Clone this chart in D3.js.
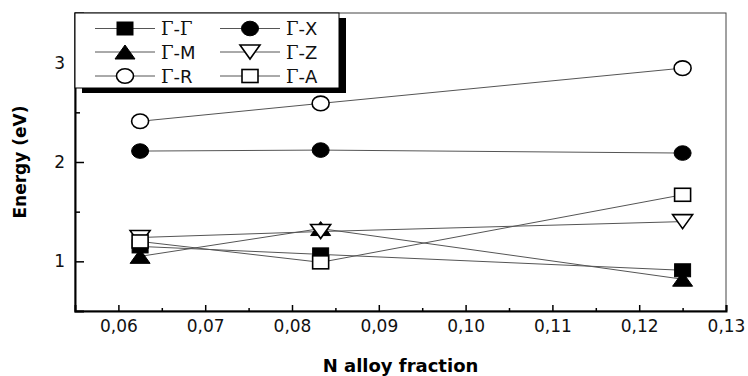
<!DOCTYPE html>
<html>
<head>
<meta charset="utf-8">
<script src="https://cdn.jsdelivr.net/npm/d3@7"></script>
<style>
  html, body { margin: 0; padding: 0; background: #fff; }
  svg { display: block; }
</style>
</head>
<body>
<div id="chart"></div>
<script>
  var
    fractions = [0.0625, 0.0833, 0.125],

    seriesNames = ["Γ-Γ", "Γ-X", "Γ-M", "Γ-Z", "Γ-R", "Γ-A"],
    seriesSymbols = ["square", "circle", "triangleUp", "triangleDown", "circle", "square"],
    seriesFilled = [true, true, true, false, false, false],

    energyGG = [1.15, 1.07, 0.91],
    energyGX = [2.11, 2.12, 2.09],
    energyGM = [1.05, 1.33, 0.82],
    energyGZ = [1.24, 1.30, 1.40],
    energyGR = [2.41, 2.59, 2.945],
    energyGA = [1.20, 0.99, 1.67],

    xTicks = [0.06, 0.07, 0.08, 0.09, 0.10, 0.11, 0.12, 0.13],
    xMinorTicks = [0.065, 0.075, 0.085, 0.095, 0.105, 0.115, 0.125],
    yTicks = [1, 2, 3],
    yMinorTicks = [1.5, 2.5];

  var
    WIDTH = 748,
    HEIGHT = 376,
    LEFT = 75,
    RIGHT = 726,
    TOP = 13,
    BOTTOM = 311,
    LINE_COLOR = "#555",
    FONT = "'DejaVu Sans', Verdana, sans-serif";

  var energies = [energyGG, energyGX, energyGM, energyGZ, energyGR, energyGA];

  var svg = d3.select("#chart").append("svg")
    .attr("width", WIDTH)
    .attr("height", HEIGHT);

  var x = d3.scaleLinear().domain([0.055, 0.13]).range([LEFT, RIGHT]);
  var y = d3.scaleLinear().domain([0.5, 3.5]).range([BOTTOM, TOP]);

  function drawSymbol(g, type, filled, cx, cy){
    var fill = filled ? "#000" : "#fff", el;
    if(type === "square"){
      el = g.append("rect")
        .attr("x", cx - 8).attr("y", cy - 6.5)
        .attr("width", 16).attr("height", 13);
    } else if(type === "circle"){
      el = g.append("ellipse")
        .attr("cx", cx).attr("cy", cy)
        .attr("rx", 8.5).attr("ry", 7.3);
    } else if(type === "triangleUp"){
      el = g.append("path")
        .attr("d", "M" + cx + "," + (cy - 7) + "L" + (cx + 10) + "," + (cy + 7) + "L" + (cx - 10) + "," + (cy + 7) + "Z");
    } else {
      el = g.append("path")
        .attr("d", "M" + (cx - 10) + "," + (cy - 7) + "L" + (cx + 10) + "," + (cy - 7) + "L" + cx + "," + (cy + 7) + "Z");
    }
    el.attr("fill", fill).attr("stroke", "#000").attr("stroke-width", filled ? 1 : 1.6);
  }

  // plot frame
  svg.append("rect")
    .attr("x", LEFT).attr("y", TOP)
    .attr("width", RIGHT - LEFT).attr("height", BOTTOM - TOP)
    .attr("fill", "none").attr("stroke", "#444").attr("stroke-width", 1);

  // axes
  var fmt = function(d){ return d3.format(".2f")(d).replace(".", ","); };

  var xAxis = svg.append("g")
    .attr("transform", "translate(0," + BOTTOM + ")")
    .call(d3.axisBottom(x).tickValues(xTicks).tickSize(-6).tickPadding(9).tickFormat(fmt));
  svg.append("g")
    .attr("transform", "translate(0," + BOTTOM + ")")
    .call(d3.axisBottom(x).tickValues(xMinorTicks).tickSize(-3).tickFormat(""))
    .select(".domain").remove();

  var yAxis = svg.append("g")
    .attr("transform", "translate(" + LEFT + ",0)")
    .call(d3.axisLeft(y).tickValues(yTicks).tickSize(-9).tickPadding(10).tickFormat(d3.format("d")));
  svg.append("g")
    .attr("transform", "translate(" + LEFT + ",0)")
    .call(d3.axisLeft(y).tickValues(yMinorTicks).tickSize(-5).tickFormat(""))
    .select(".domain").remove();

  svg.selectAll(".tick line").attr("stroke", "#000").attr("stroke-width", 1.5);
  xAxis.select(".domain").attr("stroke", "#000").attr("stroke-width", 2);
  yAxis.select(".domain").attr("stroke", "#000").attr("stroke-width", 2);
  svg.selectAll(".tick text")
    .attr("font-family", FONT).attr("font-size", 17).attr("fill", "#111");

  // axis titles
  svg.append("text")
    .attr("x", (LEFT + RIGHT) / 2).attr("y", 372)
    .attr("text-anchor", "middle")
    .attr("font-family", FONT).attr("font-size", 18).attr("font-weight", "bold")
    .text("N alloy fraction");

  svg.append("text")
    .attr("transform", "translate(26," + 162 + ") rotate(-90)")
    .attr("text-anchor", "middle")
    .attr("font-family", FONT).attr("font-size", 17).attr("font-weight", "bold")
    .text("Energy (eV)");

  // series lines
  var line = d3.line()
    .x(function(d, i){ return x(fractions[i]); })
    .y(function(d){ return y(d); });

  energies.forEach(function(values){
    svg.append("path")
      .attr("d", line(values))
      .attr("fill", "none")
      .attr("stroke", LINE_COLOR)
      .attr("stroke-width", 1);
  });

  // series markers
  var marks = svg.append("g");
  energies.forEach(function(values, s){
    values.forEach(function(v, i){
      drawSymbol(marks, seriesSymbols[s], seriesFilled[s], x(fractions[i]), y(v));
    });
  });

  // legend
  var legend = svg.append("g");
  legend.append("rect")
    .attr("x", LEFT + 7).attr("y", TOP + 5)
    .attr("width", 264).attr("height", 75)
    .attr("fill", "#000");
  legend.append("rect")
    .attr("x", LEFT).attr("y", TOP)
    .attr("width", 264).attr("height", 75)
    .attr("fill", "#fff").attr("stroke", "#000").attr("stroke-width", 1);

  var colX = [95, 220], rowY = [28.5, 52, 76];
  seriesNames.forEach(function(name, s){
    var lx = colX[s % 2], ly = rowY[Math.floor(s / 2)];
    legend.append("line")
      .attr("x1", lx).attr("x2", lx + 60)
      .attr("y1", ly).attr("y2", ly)
      .attr("stroke", LINE_COLOR).attr("stroke-width", 1);
    drawSymbol(legend, seriesSymbols[s], seriesFilled[s], lx + 30, ly);
    var t = legend.append("text")
      .attr("x", lx + 66).attr("y", ly + 6.5)
      .attr("font-family", FONT).attr("font-size", 18).attr("fill", "#111");
    t.append("tspan").attr("font-family", "'DejaVu Serif', 'Liberation Serif', serif").text(name.charAt(0));
    t.append("tspan").text("-");
    t.append("tspan").attr("font-family", "'DejaVu Serif', 'Liberation Serif', serif").text(name.charAt(2) === "Γ" ? "Γ" : "");
    if(name.charAt(2) !== "Γ") t.append("tspan").text(name.slice(2));
  });
</script>
</body>
</html>
